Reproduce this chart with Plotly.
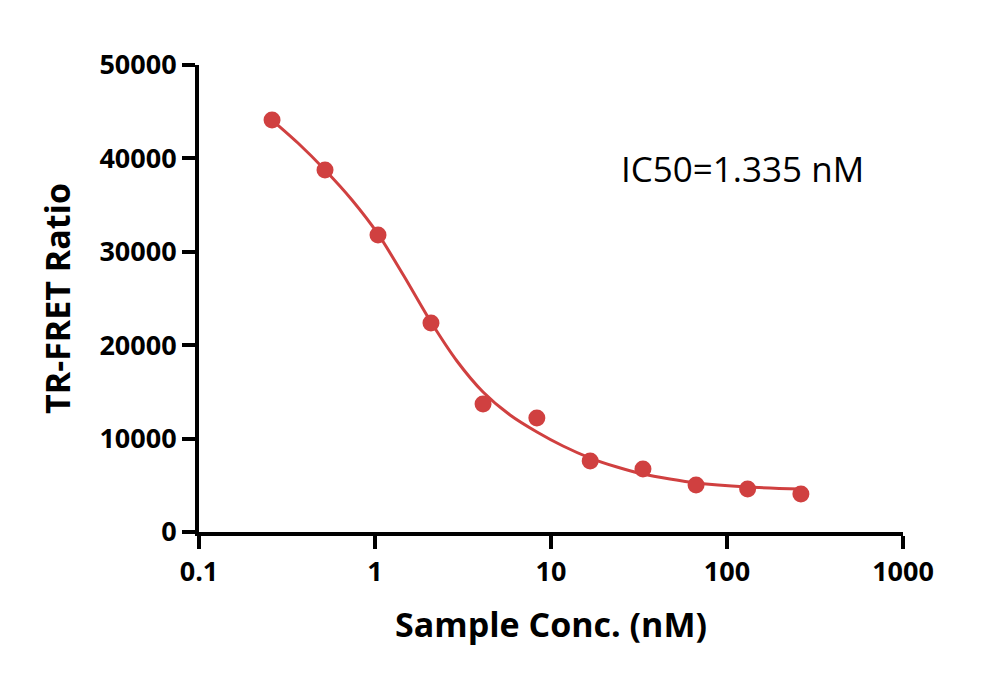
import plotly.graph_objects as go

# Measured data points (concentration in nM, TR-FRET ratio)
conc = [0.26, 0.52, 1.04, 2.08, 4.11, 8.31, 16.7, 33.3, 66.7, 131, 263]
ratio = [44110, 38760, 31800, 22380, 13700, 12210, 7600, 6750, 5030, 4600, 4070]

# Fitted curve
curve_x = [0.26, 0.365, 0.52, 0.74, 1.04, 1.46, 2.08, 2.92, 4.11, 5.85, 8.32,
           11.7, 16.7, 23.7, 33.3, 47.4, 66.7, 131, 263]
curve_y = [44110, 41650, 38760, 35550, 31910, 27410, 22480, 18310, 14990, 12530, 10710,
           9210, 7920, 6960, 6210, 5670, 5250, 4820, 4600]

x_ticks = [0.1, 1, 10, 100, 1000]
x_ticktext = ["0.1", "1", "10", "100", "1000"]
y_ticks = [0, 10000, 20000, 30000, 40000, 50000]
y_ticktext = ["0", "10000", "20000", "30000", "40000", "50000"]

red = "rgb(208,64,64)"
font_family = "Open Sans"

fig = go.Figure()
fig.add_trace(go.Scatter(x=curve_x, y=curve_y, mode="lines",
                         line=dict(color=red, width=3, shape="spline", smoothing=0.8),
                         hoverinfo="skip", showlegend=False))
fig.add_trace(go.Scatter(x=conc, y=ratio, mode="markers",
                         marker=dict(color=red, size=17, line=dict(width=0)),
                         showlegend=False))

axis_common = dict(showline=True, linewidth=4, linecolor="black", ticks="outside",
                   ticklen=13, tickwidth=4, tickcolor="black", showgrid=False,
                   zeroline=False, mirror=False,
                   tickfont=dict(family=font_family, size=27, color="black", weight="bold"))

fig.update_xaxes(type="log", range=[-1, 3], tickvals=x_ticks, ticktext=x_ticktext,
                 title=dict(text="Sample Conc. (nM)", standoff=26,
                            font=dict(family=font_family, size=34, color="black", weight="bold")),
                 **axis_common)
fig.update_yaxes(range=[0, 50000], tickvals=y_ticks, ticktext=y_ticktext,
                 title=dict(text="TR-FRET Ratio", standoff=19,
                            font=dict(family=font_family, size=34, color="black", weight="bold")),
                 **axis_common)

fig.add_annotation(text="IC50=1.335 nM", xref="paper", yref="paper",
                   x=0.597, y=0.779, xanchor="left", yanchor="middle", showarrow=False,
                   font=dict(family=font_family, size=35, color="black"))

fig.update_layout(width=1000, height=681, plot_bgcolor="white", paper_bgcolor="white",
                  margin=dict(l=199, r=97, t=65, b=149, autoexpand=False))

fig.write_html("out.html")
